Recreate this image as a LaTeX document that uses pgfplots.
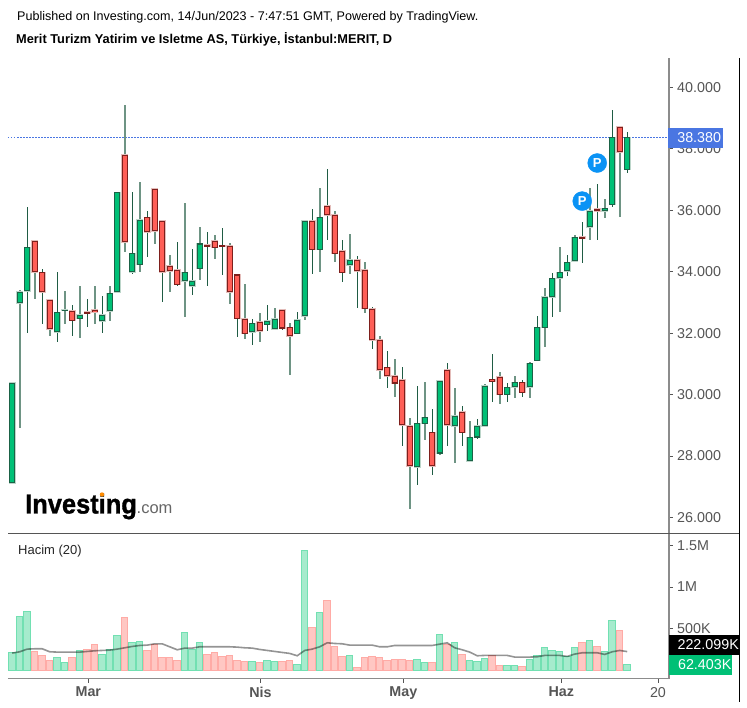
\documentclass[border=0pt]{standalone}
\usepackage{pgfplots}
\usepackage{pgfplotstable}
\usepackage{fontspec}
\setmainfont{Liberation Sans}
\newfontface\logoF{Liberation Sans Bold}[FakeBold=1.2]
\pgfplotsset{compat=1.18}
\definecolor{cgF}{HTML}{00C076}\definecolor{cgD}{HTML}{1B6246}\definecolor{cgH}{HTML}{BCD6CA}
\definecolor{crF}{HTML}{FF5F57}\definecolor{crD}{HTML}{7E1F1C}\definecolor{crH}{HTML}{E4BDBA}
\definecolor{vgF}{HTML}{A6EBCD}\definecolor{vgD}{HTML}{72E0B2}
\definecolor{vrF}{HTML}{FFC7C3}\definecolor{vrD}{HTML}{FFABA6}
\definecolor{wickA}{HTML}{1F5C44}\definecolor{wickB}{HTML}{6E9484}
\definecolor{axisG}{HTML}{8C8C8C}\definecolor{txtG}{HTML}{555555}
\definecolor{blueL}{HTML}{4A76E2}\definecolor{pBlue}{HTML}{0A93F5}

\pgfplotstableread{
i t b h l
0 30.38 27.12 30.38 27.12
1 33.34 32.97 33.41 28.91
2 34.80 33.37 36.12 32.02
6 32.68 32.03 34.00 31.72
7 32.77 32.73 33.38 32.30
9 32.60 32.47 33.52 31.85
12 32.60 32.39 33.22 32.02
13 33.30 32.72 33.52 32.38
14 36.59 33.33 36.59 33.33
16 34.60 33.98 36.61 33.93
17 35.70 34.23 36.92 34.00
23 33.98 33.69 36.23 32.51
24 33.71 33.53 34.74 33.24
25 34.92 34.10 35.46 33.73
32 32.32 32.03 32.45 31.61
34 32.40 32.27 32.91 32.08
35 32.47 32.12 32.81 32.11
38 32.44 31.98 32.69 31.98
39 35.65 32.56 35.65 32.43
41 35.77 34.72 36.73 34.00
45 34.39 34.22 35.22 33.93
54 29.07 27.63 30.29 27.05
55 29.26 29.05 30.41 28.51
57 30.44 28.08 30.44 28.03
59 29.31 28.98 30.21 27.78
61 28.61 27.83 29.15 27.83
62 28.98 28.60 29.20 28.55
63 30.28 28.98 30.35 28.98
66 30.24 29.99 30.37 29.77
67 30.40 30.24 30.62 29.90
69 31.02 30.24 31.07 29.90
70 32.19 31.10 32.57 31.10
71 33.18 32.18 33.46 31.56
72 33.79 33.17 33.95 32.51
73 33.98 33.79 34.82 32.70
74 34.31 34.02 34.53 33.87
75 35.12 34.34 35.21 34.34
77 35.98 35.45 36.73 35.03
79 36.07 35.97 36.36 35.75
80 38.38 36.18 39.26 36.12
82 38.38 37.32 38.56 37.23
}\greenC
\pgfplotstableread{
i t b h l
3 35.00 33.98 35.00 33.11
4 33.98 33.33 34.08 32.30
5 33.09 32.12 33.09 31.92
8 32.72 32.40 32.91 31.92
10 32.69 32.64 33.10 32.21
11 32.77 32.68 33.52 32.30
15 37.81 34.96 39.42 34.65
18 35.77 35.29 35.99 34.49
19 36.71 35.33 36.71 34.91
20 35.65 33.98 35.65 33.03
21 34.19 34.02 34.53 33.35
22 34.07 33.58 34.98 33.52
26 34.88 34.82 35.31 33.52
27 35.01 34.78 35.19 34.42
28 34.86 34.82 35.42 33.89
29 34.84 33.33 34.93 32.95
30 33.91 32.47 33.91 31.89
31 32.47 31.98 33.59 31.82
33 32.36 32.06 32.65 31.72
36 32.77 32.15 32.77 32.10
37 32.19 31.90 32.32 30.63
40 35.65 34.72 36.04 33.93
42 36.14 35.85 37.34 35.04
43 35.86 34.59 35.99 34.33
44 34.68 33.97 35.03 33.65
46 34.39 34.02 34.51 32.83
47 34.07 32.80 34.32 32.66
48 32.80 31.78 32.85 31.49
49 31.79 30.80 31.92 30.51
50 30.89 30.60 31.43 30.22
51 30.61 30.36 31.15 29.92
52 30.49 29.01 30.91 28.31
53 28.98 27.67 29.23 26.28
56 28.77 27.67 29.52 27.37
58 30.81 29.01 31.03 28.34
60 29.43 28.76 29.64 28.31
64 30.50 30.42 31.31 29.77
65 30.57 29.99 30.75 29.70
68 30.40 30.06 30.48 29.93
76 35.13 35.08 35.63 34.30
78 36.04 35.98 36.85 35.03
81 38.71 37.89 38.71 35.79
}\redC
\pgfplotstableread{
i v
0 208
1 644
2 704
6 148
7 88
9 236
12 188
13 248
14 420
16 332
17 348
23 448
24 252
25 328
32 104
34 116
35 104
38 72
39 1436
41 688
45 176
54 132
55 88
57 432
59 328
61 116
62 104
63 144
66 56
67 56
69 128
70 176
71 268
72 236
73 224
74 164
75 268
77 356
79 224
80 596
82 62.4
}\greenV
\pgfplotstableread{
i v
3 228
4 180
5 116
8 152
10 252
11 312
15 628
18 240
19 312
20 152
21 152
22 116
26 192
27 212
28 164
29 180
30 116
31 104
33 88
36 104
37 116
40 508
42 836
43 284
44 164
46 28
47 148
48 164
49 148
50 116
51 128
52 128
53 116
56 88
58 312
60 192
64 176
65 56
68 44
76 328
78 284
81 476
}\redV
\pgfplotstableread{
i m
0 204
1 220
2 252
3 256
4 256
5 220
6 216
7 216
8 216
9 216
10 224
11 232
12 236
13 240
14 252
15 268
16 284
17 296
18 300
19 316
20 316
21 280
22 244
23 264
24 264
25 280
26 280
27 280
28 280
29 280
30 276
31 268
32 264
33 248
34 236
35 224
36 212
37 200
38 172
39 236
40 252
41 280
42 328
43 320
44 316
45 300
46 300
47 300
48 300
49 280
50 280
51 296
52 296
53 296
54 296
55 296
56 296
57 312
58 328
59 268
60 244
61 216
62 172
63 176
64 176
65 176
66 176
67 156
68 156
69 156
70 160
71 176
72 176
73 176
74 164
75 192
76 208
77 208
78 208
79 188
80 220
81 236
82 222
}\maV

\newcommand{\wicks}[1]{%
 \addplot[draw=none,mark=none,forget plot,x filter/.expression={mod(x,2)==0?x:nan},
   error bars/.cd,y dir=both,y explicit,error mark=none,
   error bar style={line width=1pt,color=wickA}]
  table[x=i,y=t,y error plus expr=\thisrow{h}-\thisrow{t},y error minus expr=\thisrow{t}-\thisrow{l}]{#1};
 \addplot[draw=none,mark=none,forget plot,x filter/.expression={mod(x,2)==1?x:nan},
   error bars/.cd,y dir=both,y explicit,error mark=none,
   error bar style={line width=1.6pt,color=wickB}]
  table[x=i,y=t,y error plus expr=\thisrow{h}-\thisrow{t},y error minus expr=\thisrow{t}-\thisrow{l}]{#1};
}
\newcommand{\bodies}[4]{%
 \addplot[draw=none,mark=none,forget plot,error bars/.cd,y dir=both,y explicit,error mark=none,
   error bar style={line width=6.8pt,color=#4}]
  table[x=i,y expr=\thisrow{t}+0.02,y error plus expr=0,y error minus expr=\thisrow{t}-\thisrow{b}+0.04]{#1};
 \addplot[draw=none,mark=none,forget plot,error bars/.cd,y dir=both,y explicit,error mark=none,
   error bar style={line width=5.6pt,color=#3}]
  table[x=i,y=t,y error plus expr=0,y error minus expr=\thisrow{t}-\thisrow{b}]{#1};
 \addplot[draw=none,mark=none,forget plot,error bars/.cd,y dir=both,y explicit,error mark=none,
   error bar style={line width=3.8pt,color=#2}]
  table[x=i,y expr=\thisrow{t}-0.035,y error plus expr=0,y error minus expr={max(\thisrow{t}-\thisrow{b}-0.07,0)}]{#1};
}
\begin{document}
\begin{tikzpicture}[x=1pt,y=1pt]
\path[use as bounding box,fill=white] (0,0) rectangle (747,707);
\begin{axis}[
  at={(8pt,173pt)},anchor=south west,scale only axis,width=660.7pt,height=476pt,
  xmin=-0.56,xmax=87.53,ymin=25.46,ymax=40.96,
  axis x line=none,axis y line*=right,
  axis line style={draw=axisG,line width=2pt,-},
  ytick={26,28,30,32,34,36,38,40},
  yticklabels={26.000,28.000,30.000,32.000,34.000,36.000,38.000,40.000},
  ytick style={draw=txtG,line width=0.8pt},
  tick align=outside,major tick length=4pt,
  yticklabel style={font=\fontsize{14.3}{15}\selectfont,text=txtG,anchor=west,xshift=1pt},
]
\addplot[blueL,line width=1pt,dash pattern=on 1.5pt off 1.5pt,forget plot] coordinates {(-0.56,38.38) (87.53,38.38)};
\wicks{\greenC}
\wicks{\redC}
\bodies{\greenC}{cgF}{cgD}{cgH}
\bodies{\redC}{crF}{crD}{crH}
\addplot[only marks,mark=*,mark size=9.5pt,mark options={fill=pBlue,draw=pBlue},
  nodes near coords={\textcolor{white}{\bfseries\fontsize{13}{14}\selectfont P}},
  every node near coord/.style={anchor=center,inner sep=0pt}]
  coordinates {(76,36.30) (78,37.54)};
\end{axis}
\begin{axis}[
  at={(8pt,28.5pt)},anchor=south west,scale only axis,width=660.7pt,height=144.5pt,
  xmin=-0.56,xmax=87.53,ymin=-102,ymax=1639,
  axis x line*=bottom,axis y line*=right,
  axis line style={draw=axisG,line width=1.6pt,-},
  xtick={10.15,33.1,52.15,73.2,86.1},
  xticklabels={\bfseries Mar,\bfseries Nis,\bfseries May,\bfseries Haz,20},
  ytick={500,1000,1500},yticklabels={500K,1M,1.5M},
  tick style={draw=txtG,line width=0.8pt},
  tick align=outside,major tick length=4pt,
  xticklabel style={font=\fontsize{14.3}{15}\selectfont,text=txtG,yshift=-1pt},
  yticklabel style={font=\fontsize{14.3}{15}\selectfont,text=txtG,anchor=west,xshift=1pt},
]
\addplot[ybar,bar width=6.5pt,bar shift=0pt,fill=vgF,draw=vgD,line width=1pt,forget plot] table[x=i,y=v]{\greenV};
\addplot[ybar,bar width=6.5pt,bar shift=0pt,fill=vrF,draw=vrD,line width=1pt,forget plot] table[x=i,y=v]{\redV};
\addplot[black,opacity=0.42,line width=1.6pt,forget plot] table[x=i,y=m]{\maV};
\end{axis}
% frame lines
\draw[color=txtG,line width=1pt] (8,173) -- (739,173);
\draw[black,line width=1.3pt] (739.3,649) -- (739.3,5);
% value boxes
\node[fill=blueL,text=white,anchor=west,minimum width=55pt,minimum height=20pt,inner xsep=0pt,inner ysep=0pt,font=\fontsize{14.3}{15}\selectfont] at (668,569) {\hspace*{9pt}38.380\hspace*{2pt}};
\node[fill=black,text=white,anchor=west,minimum width=70pt,minimum height=20pt,inner xsep=0pt,inner ysep=0pt,font=\fontsize{14.3}{15}\selectfont] at (669,62) {\hspace*{8pt}222.099K};
\node[fill=cgF,text=white,anchor=west,minimum width=63pt,minimum height=20pt,inner xsep=0pt,inner ysep=0pt,font=\fontsize{14.3}{15}\selectfont] at (669,42) {\hspace*{8pt}62.403K};
% titles
\node[anchor=base west,inner sep=0pt,font=\fontsize{12.55}{14}\selectfont] at (17,686) {Published on Investing.com, 14/Jun/2023 - 7:47:51 GMT, Powered by TradingView.};
\node[anchor=base west,inner sep=0pt,font=\bfseries\fontsize{12.8}{14}\selectfont] at (16,663) {Merit Turizm Yatirim ve Isletme AS, Türkiye, İstanbul:MERIT, D};
\node[anchor=base west,inner sep=0pt,font=\fontsize{13}{14}\selectfont,text=black!85] at (18,152) {Hacim (20)};
% logo
\node[anchor=base west,inner sep=0pt] at (25,193.5) {\scalebox{0.925}[1]{\logoF\fontsize{27.5}{28}\selectfont Investing}};
\node[anchor=base west,inner sep=0pt,font=\fontsize{16.5}{18}\selectfont,text=black!60] at (136.5,193.5) {.com};
\fill[orange!90!yellow] (102,212.5) circle (2.2);
\end{tikzpicture}
\end{document}
